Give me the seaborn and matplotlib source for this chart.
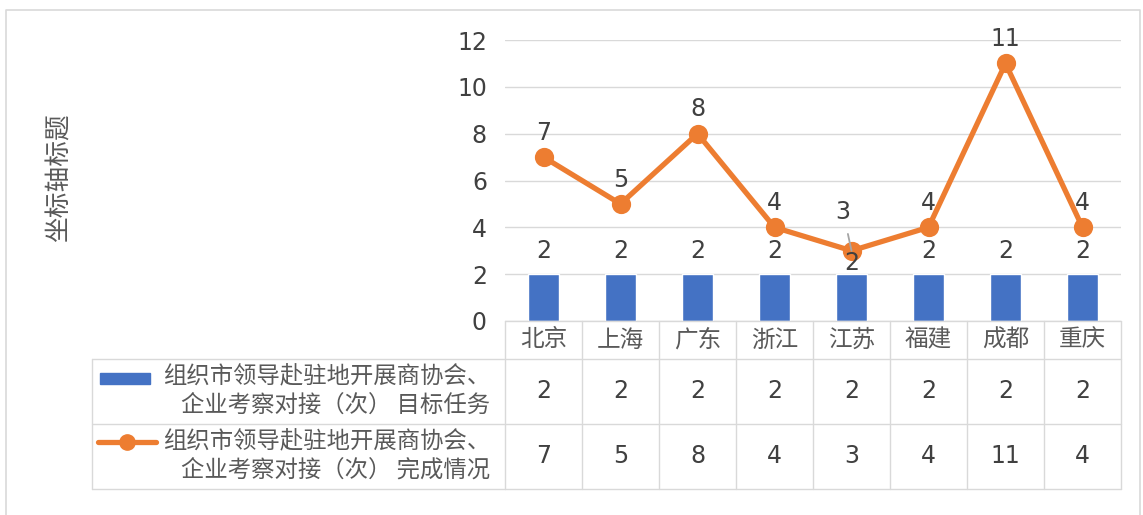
import numpy as np
import matplotlib
matplotlib.use('Agg')
import matplotlib.pyplot as plt
import seaborn as sns
from matplotlib.transforms import blended_transform_factory
from matplotlib.lines import Line2D
from matplotlib.patches import Rectangle

# 数据
cities = ['北京', '上海', '广东', '浙江', '江苏', '福建', '成都', '重庆']
target = [2, 2, 2, 2, 2, 2, 2, 2]
done = [7, 5, 8, 4, 3, 4, 11, 4]
name_target = '组织市领导赴驻地开展商协会、\n企业考察对接（次） 目标任务'
name_done = '组织市领导赴驻地开展商协会、\n企业考察对接（次） 完成情况'
y_title = '坐标轴标题'

blue = '#4472C4'
orange = '#ED7D31'
grid_c = '#D9D9D9'
txt_c = '#404040'
cjk = ['Noto Sans CJK SC', 'DejaVu Sans']

sns.set_style('white')
plt.rcParams['font.family'] = ['DejaVu Sans', 'Noto Sans CJK SC']

W, H = 1143, 515
fig = plt.figure(figsize=(W / 100, H / 100), dpi=100)


def fx(p):
    return p / W


def fy(p):
    return 1 - p / H


ax = fig.add_axes([fx(505), fy(321), (1121 - 505) / W, (321 - 40) / H])

# 柱形 + 折线
sns.barplot(x=cities, y=target, color=blue, width=0.4, saturation=1, ax=ax, zorder=2)
sns.pointplot(x=cities, y=done, color=orange, errorbar=None, markers='o',
              markersize=11, linewidth=3.8, ax=ax, zorder=3)

ax.set_xlim(-0.5, len(cities) - 0.5)
ax.set_ylim(0, 12)
ax.set_yticks(np.arange(0, 13, 2))
ax.yaxis.grid(True, color=grid_c, linewidth=1)
ax.set_axisbelow(True)
ax.tick_params(axis='y', length=0, pad=13, labelsize=17, labelcolor=txt_c)
ax.set_xticks([])
ax.set_xlabel('')
ax.set_ylabel('')
for s in ax.spines.values():
    s.set_visible(False)

# 数据标签
for i, v in enumerate(done):
    if cities[i] == '江苏':
        ax.annotate(str(v), (i, v), xytext=(-6, 28), textcoords='offset points',
                    ha='center', va='center', fontsize=17, color=txt_c, zorder=5,
                    arrowprops=dict(arrowstyle='-', color='#A5A5A5', lw=1.3,
                                    shrinkA=5, shrinkB=0))
    else:
        ax.annotate(str(v), (i, v), xytext=(0, 17.5), textcoords='offset points',
                    ha='center', va='center', fontsize=17, color=txt_c)
for i, v in enumerate(target):
    dy = 8 if cities[i] == '江苏' else 17
    ax.annotate(str(v), (i, v), xytext=(0, dy), textcoords='offset points',
                ha='center', va='center', fontsize=17, color=txt_c, zorder=4)

# 数据表
tr = blended_transform_factory(ax.transData, fig.transFigure)
n = len(cities)
rows = [321, 359, 424, 489]
for k in range(n + 1):
    fig.add_artist(Line2D([k - 0.5, k - 0.5], [fy(321), fy(489)], transform=tr,
                          color=grid_c, lw=1))
for r in rows:
    fig.add_artist(Line2D([fx(505), fx(1121)], [fy(r), fy(r)],
                          transform=fig.transFigure, color=grid_c, lw=1))
for r in rows[1:]:
    fig.add_artist(Line2D([fx(92), fx(505)], [fy(r), fy(r)],
                          transform=fig.transFigure, color=grid_c, lw=1))
fig.add_artist(Line2D([fx(92), fx(92)], [fy(359), fy(489)],
                      transform=fig.transFigure, color=grid_c, lw=1))

for i, c in enumerate(cities):
    fig.text(i, fy(340), c, transform=tr, ha='center', va='center',
             fontsize=17, color='#595959', family=cjk)
    fig.text(i, fy(391), str(target[i]), transform=tr, ha='center', va='center',
             fontsize=17, color=txt_c)
    fig.text(i, fy(456), str(done[i]), transform=tr, ha='center', va='center',
             fontsize=17, color=txt_c)

# 图例列
fig.add_artist(Rectangle((fx(100), fy(384)), fx(50), 11 / H,
                         transform=fig.transFigure, color=blue))
fig.add_artist(Line2D([fx(98), fx(127), fx(156)], [fy(442)] * 3,
                      transform=fig.transFigure, color=orange, lw=3.8,
                      marker='o', markevery=[1], markersize=11))
fig.text(fx(490), fy(391), name_target, ha='right', va='center', fontsize=16.8,
         color='#595959', linespacing=1.3, multialignment='right', family=cjk)
fig.text(fx(490), fy(456), name_done, ha='right', va='center', fontsize=16.8,
         color='#595959', linespacing=1.3, multialignment='right', family=cjk)

# 坐标轴标题
fig.text(fx(60), fy(178), y_title, rotation=90, ha='center', va='center',
         fontsize=18.5, color='#595959', family=cjk)

# 外框
fig.add_artist(Line2D([fx(6), fx(6), fx(1140), fx(1140)], [0, fy(10), fy(10), 0],
                      transform=fig.transFigure, color=grid_c, lw=1.2))

fig.savefig('out.png', dpi=100)
